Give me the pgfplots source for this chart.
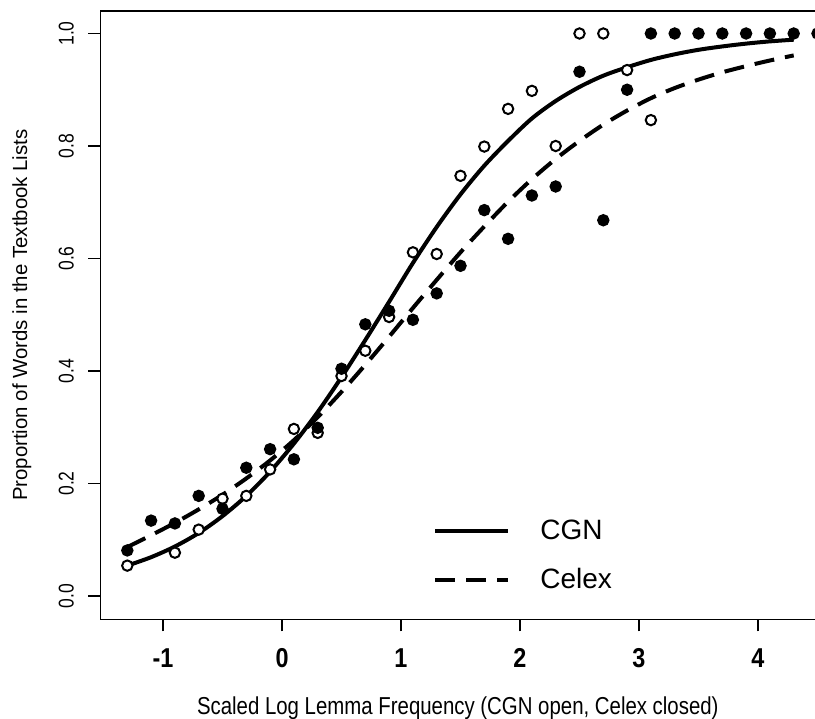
\documentclass[border=0pt]{standalone}
\usepackage{fontspec}
\setmainfont{Liberation Sans}
\usepackage{graphicx}
\usepackage{pgfplots}
\pgfplotsset{compat=1.18}

\begin{document}
\begin{tikzpicture}
\begin{axis}[
    scale only axis,
    width=372.4pt, height=304.17pt,
    xmin=-1.527, xmax=4.732,
    ymin=-0.0415, ymax=1.04,
    axis line style={line width=0.7pt},
    tick style={line width=0.7pt, black},
    tick align=outside,
    major tick length=6pt,
    xtick pos=bottom, ytick pos=left,
    xtick={-1,0,1,2,3,4},
    ytick={0,0.2,0.4,0.6,0.8,1.0},
    /pgf/number format/assume math mode=true,
    xticklabel={\scalebox{0.9}[1.05]{\pgfmathprintnumber{\tick}}},
    xticklabel style={font=\fontsize{13}{15}\selectfont\bfseries, anchor=north, inner sep=0pt, yshift=-8.5pt},
    yticklabel={\scalebox{1}[1.22]{\pgfmathprintnumber[fixed,fixed zerofill,precision=1]{\tick}}},
    yticklabel style={font=\fontsize{8.75}{10}\selectfont, rotate=90, anchor=south, inner sep=0pt, yshift=7pt},
    xlabel={\scalebox{1}[1.2]{Scaled Log Lemma Frequency (CGN open, Celex closed)}},
    ylabel={Proportion of Words in the Textbook Lists},
    xlabel style={font=\fontsize{10.2}{12}\selectfont, at={(rel axis cs:0.48,0)}, anchor=north, inner sep=0pt, yshift=-38.5pt},
    ylabel style={font=\fontsize{10.2}{12}\selectfont, at={(rel axis cs:0,0.5)}, anchor=base, inner sep=0pt, yshift=36.6pt},
    legend image code/.code={\draw[#1] (0pt,0pt) -- (36.5pt,0pt);},
    legend style={draw=none, fill=none, at={(axis cs:1.269,0.072)}, anchor=west,
        inner sep=0pt, row sep=13pt, column sep=15pt,
        font=\fontsize{14}{16}\selectfont, nodes={inner sep=0pt}},
    legend cell align=left,
]
\coordinate (bl) at (rel axis cs:0,0);
\coordinate (tl) at (rel axis cs:0,1);

% CGN (open)
\addplot[only marks, mark=*, mark size=2.6pt, mark options={fill=white, draw=black, line width=1pt}, forget plot]
coordinates {(-1.3,0.054) (-0.9,0.077) (-0.7,0.118) (-0.5,0.173) (-0.3,0.178)
 (-0.1,0.225) (0.1,0.297) (0.3,0.290) (0.5,0.391) (0.7,0.436) (0.9,0.496)
 (1.1,0.611) (1.3,0.608) (1.5,0.747) (1.7,0.799) (1.9,0.866) (2.1,0.898)
 (2.3,0.800) (2.5,1) (2.7,1) (2.9,0.935) (3.1,0.846)};

% Celex (closed)
\addplot[only marks, mark=*, mark size=2.6pt, mark options={fill=black, draw=black, line width=1pt}, forget plot]
coordinates {(-1.3,0.081) (-1.1,0.134) (-0.9,0.129) (-0.7,0.178) (-0.5,0.155)
 (-0.3,0.228) (-0.1,0.261) (0.1,0.243) (0.3,0.299) (0.5,0.404) (0.7,0.483)
 (0.9,0.507) (1.1,0.491) (1.3,0.538) (1.5,0.587) (1.7,0.686) (1.9,0.635)
 (2.1,0.712) (2.3,0.728) (2.5,0.932) (2.7,0.668) (2.9,0.900) (3.1,1) (3.3,1)
 (3.5,1) (3.7,1) (3.9,1) (4.1,1) (4.3,1) (4.5,1)};

\addplot[black, line width=2pt, smooth, no markers]
coordinates {(-1.3,0.054) (-1.1,0.069) (-0.9,0.088) (-0.7,0.112) (-0.5,0.142)
 (-0.3,0.178) (-0.1,0.221) (0.1,0.271) (0.3,0.327) (0.5,0.389) (0.7,0.455)
 (0.9,0.523) (1.1,0.592) (1.3,0.656) (1.5,0.714) (1.7,0.765) (1.9,0.809)
 (2.1,0.849) (2.3,0.880) (2.5,0.905) (2.7,0.925) (2.9,0.940) (3.1,0.953)
 (3.3,0.963) (3.5,0.971) (3.7,0.977) (3.9,0.982) (4.1,0.986) (4.3,0.989)};
\addlegendentry{CGN}

\addplot[black, line width=2pt, smooth, no markers, dash pattern=on 10pt off 5.5pt]
coordinates {(-1.3,0.087) (-1.1,0.108) (-0.9,0.130) (-0.7,0.154) (-0.5,0.180)
 (-0.3,0.209) (-0.1,0.241) (0.1,0.277) (0.3,0.318) (0.5,0.363) (0.7,0.411)
 (0.9,0.461) (1.1,0.512) (1.3,0.562) (1.5,0.611) (1.7,0.657) (1.9,0.701)
 (2.1,0.741) (2.3,0.777) (2.5,0.809) (2.7,0.838) (2.9,0.863) (3.1,0.885)
 (3.3,0.903) (3.5,0.918) (3.7,0.931) (3.9,0.942) (4.1,0.952) (4.3,0.961)};
\addlegendentry{Celex}
\end{axis}
\pgfresetboundingbox
\path ([shift={(-50.15pt,-49.35pt)}]bl) rectangle ([shift={(357.35pt,5.5pt)}]tl);
\end{tikzpicture}
\end{document}
